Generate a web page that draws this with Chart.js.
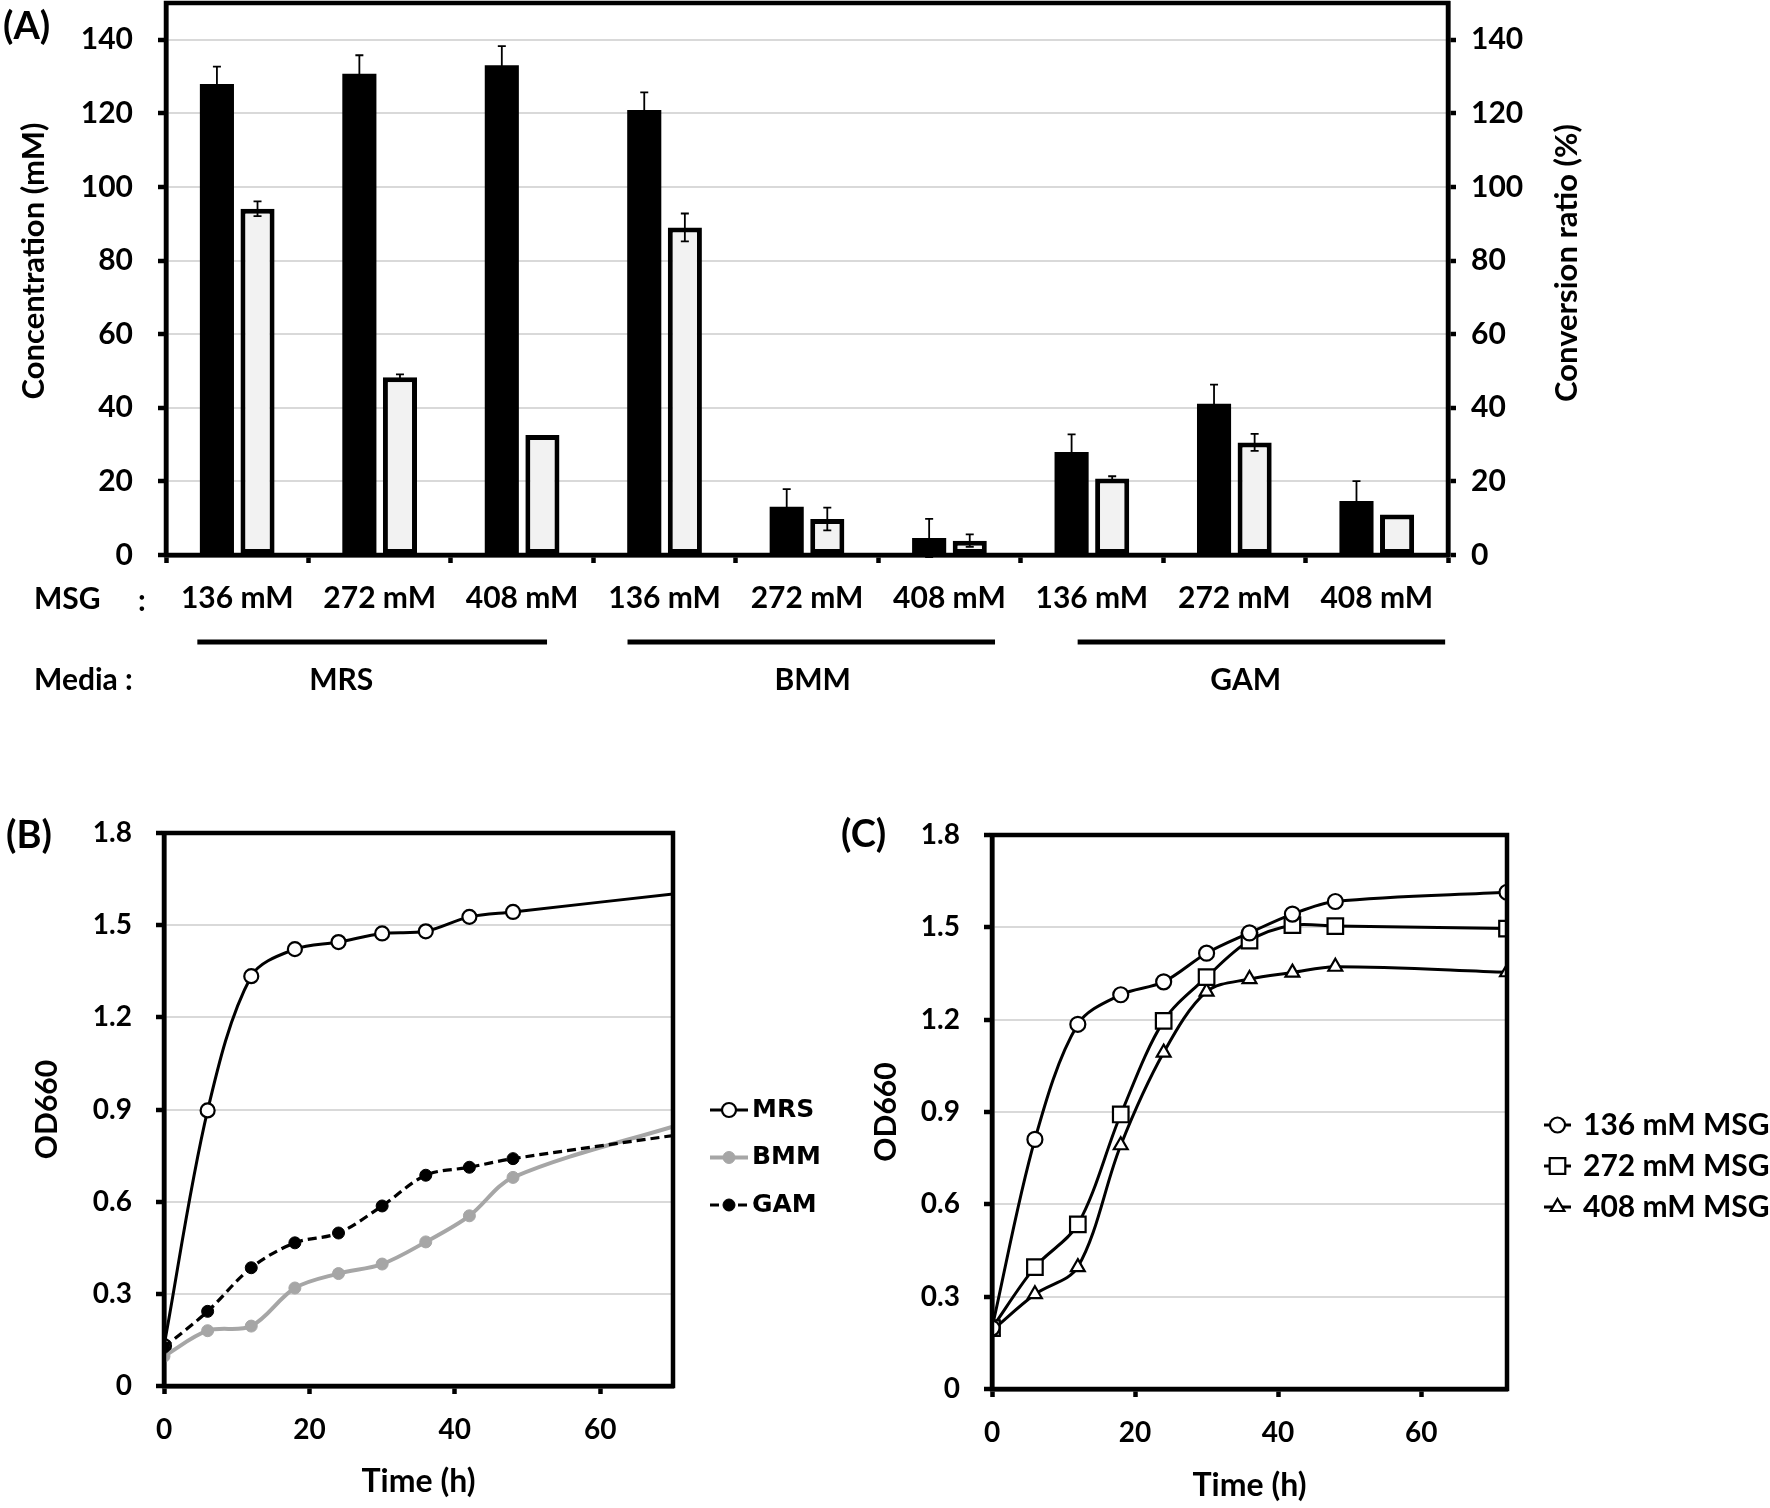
<!DOCTYPE html>
<html>
<head>
<meta charset="utf-8">
<title>MSG conversion and growth</title>
<script src="https://cdn.jsdelivr.net/npm/chart.js@4.4.1/dist/chart.umd.min.js"></script>
<style>
    html, body { margin: 0; padding: 0; background: #fff; }
    #wrap { position: relative; width: 1770px; height: 1508px; overflow: hidden; }
    canvas { position: absolute; }
</style>
</head>
<body>
<div id="wrap">
    <canvas id="chartA" width="1600" height="720" style="left:0;top:0;width:1600px;height:720px"></canvas>
    <canvas id="chartB" width="830" height="748" style="left:0;top:760px;width:830px;height:748px"></canvas>
    <canvas id="chartC" width="940" height="748" style="left:830px;top:760px;width:940px;height:748px"></canvas>
</div>
<script>
// ===== Panel A data =====
const msgLabels = ['136 mM', '272 mM', '408 mM', '136 mM', '272 mM', '408 mM', '136 mM', '272 mM', '408 mM'];
const mediaGroups = ['MRS', 'BMM', 'GAM'];
const concValues = [128, 130.8, 133.1, 120.9, 13.1, 4.6, 28, 41.1, 14.7];
const concErrors = [4.7, 5.0, 5.2, 4.8, 4.8, 5.2, 4.8, 5.2, 5.4];
const ratioValues = [94.1, 48.3, 32.6, 89, 9.8, 3.9, 20.8, 30.6, 11];
const ratioErrors = [2.0, 0.8, 0, 3.8, 3.1, 1.7, 0.6, 2.3, 0];

// ===== Panel B data (OD660 by medium) =====
const timeB = [0, 6, 12, 18, 24, 30, 36, 42, 48, 72];
const mrsOD = [0.13, 0.897, 1.334, 1.422, 1.445, 1.473, 1.48, 1.527, 1.543, 1.607];
const bmmOD = [0.097, 0.18, 0.195, 0.319, 0.366, 0.397, 0.469, 0.554, 0.679, 0.859];
const gamOD = [0.126, 0.243, 0.385, 0.466, 0.498, 0.586, 0.686, 0.712, 0.74, 0.822];

// ===== Panel C data (OD660 by MSG concentration) =====
const timeC = [0, 6, 12, 18, 24, 30, 36, 42, 48, 72];
const msg136OD = [0.198, 0.811, 1.185, 1.281, 1.323, 1.416, 1.482, 1.543, 1.584, 1.614];
const msg272OD = [0.198, 0.396, 0.535, 0.892, 1.196, 1.338, 1.457, 1.507, 1.504, 1.496];
const msg408OD = [0.19, 0.308, 0.396, 0.792, 1.093, 1.291, 1.332, 1.353, 1.372, 1.354];

// ===== Colors / fonts =====
const colors = {
    ink: '#000000',
    grid: '#d9d9d9',
    lightBar: '#f2f2f2',
    grey: '#a6a6a6',
    white: '#ffffff'
};
const FONT = 'Lato';

const toPoints = (xs, ys) => xs.map((x, i) => ({ x: x, y: ys[i] }));

// ===== Plugins =====
const errorBars = {
    id: 'errorBars',
    afterDatasetsDraw(chart) {
        const { ctx } = chart;
        chart.data.datasets.forEach((ds, di) => {
            if (!ds.errors) return;
            const meta = chart.getDatasetMeta(di);
            const scale = chart.scales[ds.yAxisID];
            meta.data.forEach((bar, i) => {
                const err = ds.errors[i];
                if (!err) return;
                const top = scale.getPixelForValue(ds.data[i] + err);
                const bot = scale.getPixelForValue(ds.data[i] - err);
                ctx.save();
                ctx.strokeStyle = colors.ink;
                ctx.lineWidth = 1.8;
                ctx.beginPath();
                ctx.moveTo(bar.x, top); ctx.lineTo(bar.x, bot);
                ctx.moveTo(bar.x - 4, top); ctx.lineTo(bar.x + 4, top);
                ctx.moveTo(bar.x - 4, bot); ctx.lineTo(bar.x + 4, bot);
                ctx.stroke();
                ctx.restore();
            });
        });
    }
};

const frame = {
    id: 'frame',
    afterDraw(chart) {
        const { ctx, chartArea: a } = chart;
        ctx.save();
        ctx.strokeStyle = colors.ink;
        ctx.lineWidth = 4.5;
        ctx.strokeRect(a.left, a.top, a.right - a.left, a.bottom - a.top);
        ctx.restore();
    }
};

const panelLabel = {
    id: 'panelLabel',
    afterDraw(chart, args, opts) {
        if (!opts.text) return;
        const { ctx } = chart;
        ctx.save();
        ctx.fillStyle = colors.ink;
        ctx.font = 'bold 38px ' + FONT;
        ctx.textAlign = 'left';
        ctx.textBaseline = 'middle';
        ctx.fillText(opts.text, opts.x, opts.y);
        ctx.restore();
    }
};

function drawMarker(ctx, ds, x, y) {
    ctx.fillStyle = ds.pointBackgroundColor;
    ctx.strokeStyle = ds.pointBorderColor;
    ctx.lineWidth = ds.pointBorderWidth;
    ctx.setLineDash([]);
    const r = ds.pointRadius;
    ctx.beginPath();
    if (ds.pointStyle === 'rect') {
        const s = r * Math.SQRT1_2;
        ctx.rect(x - s, y - s, 2 * s, 2 * s);
    } else if (ds.pointStyle === 'triangle') {
        ctx.moveTo(x, y - r);
        ctx.lineTo(x + r * 0.866, y + r * 0.5);
        ctx.lineTo(x - r * 0.866, y + r * 0.5);
        ctx.closePath();
    } else {
        ctx.arc(x, y, r, 0, Math.PI * 2);
    }
    ctx.fill();
    if (ds.pointBorderWidth > 0) ctx.stroke();
}

const sideLegend = {
    id: 'sideLegend',
    afterDraw(chart, args, opts) {
        if (!opts.left) return;
        const { ctx } = chart;
        chart.data.datasets.forEach((ds, i) => {
            const y = opts.top + i * opts.gap;
            const x0 = opts.left;
            const x1 = opts.left + opts.lineLen;
            ctx.save();
            ctx.strokeStyle = ds.borderColor;
            ctx.lineWidth = ds.borderWidth;
            ctx.setLineDash(ds.borderDash || []);
            ctx.beginPath();
            ctx.moveTo(x0, y); ctx.lineTo(x1, y);
            ctx.stroke();
            drawMarker(ctx, ds, (x0 + x1) / 2, y);
            ctx.fillStyle = colors.ink;
            ctx.font = opts.font;
            ctx.textAlign = 'left';
            ctx.textBaseline = 'middle';
            ctx.fillText(ds.label, x1 + opts.textGap, y);
            ctx.restore();
        });
    }
};

// MSG row, media groups and the axis titles of panel A
const annotateA = {
    id: 'annotateA',
    afterDraw(chart) {
        const { ctx, chartArea: a, scales: { x } } = chart;
        const cw = (a.right - a.left) / msgLabels.length;
        const lineSpans = [[-0.28, 0.175], [-0.26, 0.32], [-0.10, 0.48]];
        const nameShift = [-0.27, 0.04, 0.08];
        ctx.save();
        ctx.fillStyle = colors.ink;
        ctx.strokeStyle = colors.ink;
        ctx.textBaseline = 'middle';
        ctx.font = 'bold 31px ' + FONT;
        ctx.textAlign = 'center';

        ctx.save();
        ctx.translate(34, 261);
        ctx.rotate(-Math.PI / 2);
        ctx.fillText('Concentration (mM)', 0, 0);
        ctx.restore();
        ctx.save();
        ctx.translate(1567, 263);
        ctx.rotate(-Math.PI / 2);
        ctx.fillText('Conversion ratio (%)', 0, 0);
        ctx.restore();

        ctx.font = 'bold 30px ' + FONT;
        ctx.textAlign = 'left';
        ctx.fillText('MSG', 34, 599);
        ctx.fillText(':', 138, 601);
        ctx.fillText('Media :', 34, 680);

        ctx.lineWidth = 5;
        ctx.textAlign = 'center';
        mediaGroups.forEach((g, gi) => {
            const first = x.getPixelForValue(gi * 3);
            const last = x.getPixelForValue(gi * 3 + 2);
            ctx.beginPath();
            ctx.moveTo(first + lineSpans[gi][0] * cw, 642);
            ctx.lineTo(last + lineSpans[gi][1] * cw, 642);
            ctx.stroke();
            ctx.fillText(g, x.getPixelForValue(gi * 3 + 1) + nameShift[gi] * cw, 680);
        });
        ctx.restore();
    }
};

// ===== Shared axis helpers =====
const tickFont = (size) => ({ family: FONT, weight: 'bold', size: size });
const axisGrid = (onArea) => ({
    drawOnChartArea: onArea,
    color: colors.grid,
    lineWidth: 2,
    tickColor: colors.ink,
    tickWidth: 4.5,
    tickLength: 8
});
const axisBorder = { color: colors.ink, width: 4.5 };

// ===== Initialize on Load =====
document.addEventListener('DOMContentLoaded', () => {
    const ready = document.fonts
        ? Promise.all([document.fonts.load('bold 30px Lato'), document.fonts.load('bold 25px "DejaVu Sans"')])
        : Promise.resolve();
    ready.catch(() => {}).then(() => {
        initPanelA();
        initPanelB();
        initPanelC();
    });
});

// ===== Panel A: bar chart =====
function initPanelA() {
    const ctx = document.getElementById('chartA');
    if (!ctx) return;

    new Chart(ctx, {
        type: 'bar',
        data: {
            labels: msgLabels,
            datasets: [
                {
                    label: 'Concentration (mM)',
                    data: concValues,
                    errors: concErrors,
                    yAxisID: 'y',
                    backgroundColor: colors.ink,
                    borderColor: colors.ink,
                    borderWidth: 0,
                    barPercentage: 0.84,
                    categoryPercentage: 0.57
                },
                {
                    label: 'Conversion ratio (%)',
                    data: ratioValues,
                    errors: ratioErrors,
                    yAxisID: 'y1',
                    backgroundColor: colors.lightBar,
                    borderColor: colors.ink,
                    borderWidth: 5,
                    borderSkipped: false,
                    barPercentage: 0.84,
                    categoryPercentage: 0.57
                }
            ]
        },
        options: {
            responsive: false,
            animation: false,
            layout: { padding: { top: 3, left: 0, right: 0, bottom: 0 } },
            plugins: {
                legend: { display: false },
                tooltip: { enabled: false },
                panelLabel: { text: '(A)', x: 3, y: 27 }
            },
            scales: {
                x: {
                    grid: { offset: true, drawOnChartArea: false, tickColor: colors.ink, tickWidth: 4.5, tickLength: 8 },
                    border: axisBorder,
                    ticks: { color: colors.ink, font: tickFont(30), padding: 17, maxRotation: 0, autoSkip: false },
                    afterFit: (s) => { s.height = 165; s.paddingLeft = 0; s.paddingRight = 0; }
                },
                y: {
                    position: 'left',
                    min: 0,
                    max: 150,
                    ticks: { stepSize: 20, color: colors.ink, font: tickFont(30), padding: 25 },
                    afterBuildTicks: (s) => { s.ticks = s.ticks.filter(t => t.value <= 140); },
                    grid: axisGrid(true),
                    border: axisBorder,
                    afterFit: (s) => { s.width = 166; s.paddingTop = 0; s.paddingBottom = 0; }
                },
                y1: {
                    position: 'right',
                    min: 0,
                    max: 150,
                    ticks: { stepSize: 20, color: colors.ink, font: tickFont(30), padding: 15 },
                    afterBuildTicks: (s) => { s.ticks = s.ticks.filter(t => t.value <= 140); },
                    grid: axisGrid(false),
                    border: axisBorder,
                    afterFit: (s) => { s.width = 152; s.paddingTop = 0; s.paddingBottom = 0; }
                }
            }
        },
        plugins: [errorBars, frame, annotateA, panelLabel]
    });
}

// ===== Line panel options (B and C) =====
function lineOptions(cfg) {
    return {
        responsive: false,
        animation: false,
        layout: { padding: { top: cfg.top, right: cfg.right, left: 0, bottom: 0 } },
        elements: { line: { tension: 0.33, capBezierPoints: false } },
        plugins: {
            legend: { display: false },
            tooltip: { enabled: false },
            panelLabel: cfg.label,
            sideLegend: cfg.legend
        },
        scales: {
            x: {
                type: 'linear',
                min: 0,
                max: cfg.xMax,
                ticks: { stepSize: 20, color: colors.ink, font: tickFont(28), padding: 19 },
                afterBuildTicks: (s) => { s.ticks = s.ticks.filter(t => t.value <= 60); },
                grid: { drawOnChartArea: false, tickColor: colors.ink, tickWidth: 4.5, tickLength: 8 },
                border: axisBorder,
                title: { display: true, text: 'Time (h)', color: colors.ink, font: tickFont(32), padding: { top: 0, bottom: cfg.xTitlePad } },
                afterFit: (s) => { s.height = cfg.xHeight; s.paddingLeft = 0; s.paddingRight = 0; }
            },
            y: {
                min: 0,
                max: 1.8,
                ticks: {
                    stepSize: 0.3,
                    color: colors.ink,
                    font: tickFont(28),
                    padding: 24,
                    callback: (v) => (v === 0 ? '0' : v.toFixed(1))
                },
                grid: axisGrid(true),
                border: axisBorder,
                title: { display: true, text: 'OD660', color: colors.ink, font: tickFont(30), padding: { top: cfg.yTitlePad, bottom: 0 } },
                afterFit: (s) => { s.width = cfg.yWidth; s.paddingTop = 0; s.paddingBottom = 0; }
            }
        }
    };
}

// ===== Panel B: growth in three media =====
function initPanelB() {
    const ctx = document.getElementById('chartB');
    if (!ctx) return;

    new Chart(ctx, {
        type: 'line',
        data: {
            datasets: [
                {
                    label: 'MRS',
                    data: toPoints(timeB, mrsOD),
                    borderColor: colors.ink,
                    borderWidth: 3,
                    pointStyle: 'circle',
                    pointRadius: 7,
                    pointBackgroundColor: colors.white,
                    pointBorderColor: colors.ink,
                    pointBorderWidth: 2.2,
                    order: 2
                },
                {
                    label: 'BMM',
                    data: toPoints(timeB, bmmOD),
                    borderColor: colors.grey,
                    borderWidth: 4,
                    pointStyle: 'circle',
                    pointRadius: 6,
                    pointBackgroundColor: colors.grey,
                    pointBorderColor: colors.grey,
                    pointBorderWidth: 1,
                    order: 1
                },
                {
                    label: 'GAM',
                    data: toPoints(timeB, gamOD),
                    borderColor: colors.ink,
                    borderWidth: 3.2,
                    borderDash: [9, 5],
                    pointStyle: 'circle',
                    pointRadius: 6,
                    pointBackgroundColor: colors.ink,
                    pointBorderColor: colors.ink,
                    pointBorderWidth: 1,
                    order: 0
                }
            ]
        },
        options: lineOptions({
            top: 73, right: 157, xMax: 70, xHeight: 122, xTitlePad: 7, yWidth: 164, yTitlePad: 29,
            label: { text: '(B)', x: 6, y: 76 },
            legend: { left: 710, top: 350, gap: 47.5, lineLen: 38, textGap: 4, font: 'bold 25px "DejaVu Sans"' }
        }),
        plugins: [frame, sideLegend, panelLabel]
    });
}

// ===== Panel C: growth at three MSG levels =====
function initPanelC() {
    const ctx = document.getElementById('chartC');
    if (!ctx) return;

    const openMarker = {
        borderColor: colors.ink,
        borderWidth: 3,
        pointBackgroundColor: colors.white,
        pointBorderColor: colors.ink,
        pointBorderWidth: 2.2
    };

    new Chart(ctx, {
        type: 'line',
        data: {
            datasets: [
                Object.assign({ label: '136 mM MSG', data: toPoints(timeC, msg136OD), pointStyle: 'circle', pointRadius: 7.5 }, openMarker),
                Object.assign({ label: '272 mM MSG', data: toPoints(timeC, msg272OD), pointStyle: 'rect', pointRadius: 11 }, openMarker),
                Object.assign({ label: '408 mM MSG', data: toPoints(timeC, msg408OD), pointStyle: 'triangle', pointRadius: 8 }, openMarker)
            ]
        },
        options: lineOptions({
            top: 75, right: 263, xMax: 72, xHeight: 119, xTitlePad: 3, yWidth: 162, yTitlePad: 38,
            label: { text: '(C)', x: 11, y: 75 },
            legend: { left: 714, top: 365, gap: 41, lineLen: 27, textGap: 12, font: 'bold 30px Lato' }
        }),
        plugins: [frame, sideLegend, panelLabel]
    });
}
</script>
</body>
</html>
